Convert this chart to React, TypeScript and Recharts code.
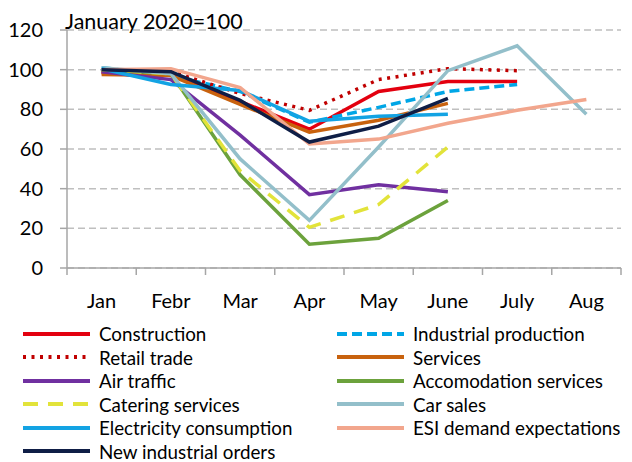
import React from 'react';
import { LineChart, Line, XAxis, YAxis, CartesianGrid, Legend } from 'recharts';

// Index values, January 2020 = 100
const MONTHS = ['Jan', 'Febr', 'Mar', 'Apr', 'May', 'June', 'July', 'Aug'];
const Y_TICKS = [0, 20, 40, 60, 80, 100, 120];

const construction = [98.5, 98, 84, 70, 89, 94, 94, null];
const industrialProduction = [101, 97, 89, 73.5, 81, 89, 92.5, null];
const retailTrade = [99, 99, 88, 79.5, 95, 100.5, 99.5, null];
const services = [97.5, 97, 82.5, 68.5, 74.5, 83, null, null];
const airTraffic = [99, 95, 67, 37, 42, 38.5, null, null];
const accomodation = [100, 98, 47, 12, 15, 34, null, null];
const catering = [100, 98, 49, 20.5, 32, 61, null, null];
const carSales = [101, 98, 55, 24, 61, 99.5, 112, 77.5];
const electricity = [100.5, 92.5, 89.5, 74, 76.5, 77.5, null, null];
const esiDemand = [100, 100.5, 91, 62.5, 65, 73, 79.5, 85];
const newOrders = [100, 99, 84.5, 63.5, 71.5, 85.5, null, null];

const SERIES = [
  { key: 'construction', name: 'Construction', values: construction, color: '#E3000F' },
  { key: 'industrial', name: 'Industrial production', values: industrialProduction, color: '#00A6E6', dash: '10 5' },
  { key: 'retail', name: 'Retail trade', values: retailTrade, color: '#C00000', dash: '3 5.5' },
  { key: 'services', name: 'Services', values: services, color: '#C8620E' },
  { key: 'air', name: 'Air traffic', values: airTraffic, color: '#7030A0' },
  { key: 'accomodation', name: 'Accomodation services', values: accomodation, color: '#6CA23C' },
  { key: 'catering', name: 'Catering services', values: catering, color: '#E2E33A', dash: '15 10' },
  { key: 'car', name: 'Car sales', values: carSales, color: '#93BFCA' },
  { key: 'electricity', name: 'Electricity consumption', values: electricity, color: '#13A3E3' },
  { key: 'esi', name: 'ESI demand expectations', values: esiDemand, color: '#F2A68D' },
  { key: 'orders', name: 'New industrial orders', values: newOrders, color: '#0F1E46' },
];

const data = MONTHS.map((month, i) => {
  const row: any = { month };
  SERIES.forEach((s) => { row[s.key] = s.values[i]; });
  return row;
});

const FONT = 'Lato, sans-serif';
const AXIS = '#A6A6A6';
const PLOT_WIDTH = 554;
const BAND = PLOT_WIDTH / MONTHS.length;

const XTick = ({ x, y, payload, index }: any) => (
  <g>
    <line x1={x - BAND / 2} x2={x - BAND / 2} y1={y} y2={y + 7} stroke={AXIS} strokeWidth={1.5} />
    {index === MONTHS.length - 1 && (
      <line x1={x + BAND / 2} x2={x + BAND / 2} y1={y} y2={y + 7} stroke={AXIS} strokeWidth={1.5} />
    )}
    <text x={x} y={y + 32} textAnchor="middle" dominantBaseline="central" fontSize={20} fontFamily={FONT} fill="#000">
      {payload.value}
    </text>
  </g>
);

const LegendContent = () => (
  <div style={{ display: 'grid', gridTemplateColumns: '314px 310px', fontFamily: FONT, fontSize: 18.8, color: '#000' }}>
    {SERIES.map((s) => (
      <div key={s.key} style={{ display: 'flex', alignItems: 'center', height: 23.5, paddingLeft: 13, whiteSpace: 'nowrap' }}>
        <svg width={71} height={10} style={{ marginRight: 7, flexShrink: 0 }}>
          <line x1={2} x2={69} y1={5} y2={5} stroke={s.color} strokeWidth={4} strokeDasharray={s.dash} />
        </svg>
        <span>{s.name}</span>
      </div>
    ))}
  </div>
);

export default function App() {
  return (
    <div style={{ position: 'relative', width: 624, height: 454, fontFamily: FONT }}>
      <div style={{ position: 'absolute', left: 57, top: 0, fontSize: 21.5, color: '#000', zIndex: 1 }}>
        January 2020=100
      </div>
      <LineChart width={624} height={454} data={data} margin={{ top: 22, right: 11, left: 0, bottom: 164 }}>
        <CartesianGrid horizontal vertical={false} stroke="#BFBFBF" strokeWidth={1.5} strokeDasharray="7 4" />
        <XAxis
          dataKey="month"
          scale="band"
          interval={0}
          height={30}
          tickLine={false}
          tickSize={0}
          tickMargin={0}
          axisLine={{ stroke: AXIS, strokeWidth: 1.5 }}
          tick={<XTick />}
        />
        <YAxis
          domain={[0, 120]}
          ticks={Y_TICKS}
          width={59}
          tickSize={7}
          tickMargin={17}
          axisLine={{ stroke: AXIS, strokeWidth: 1.5 }}
          tickLine={{ stroke: AXIS, strokeWidth: 1.5 }}
          tick={{ fill: '#000', fontSize: 20, fontFamily: FONT }}
        />
        {SERIES.map((s) => (
          <Line
            key={s.key}
            dataKey={s.key}
            name={s.name}
            type="linear"
            stroke={s.color}
            strokeWidth={3.5}
            strokeDasharray={s.dash}
            dot={false}
            activeDot={false}
            isAnimationActive={false}
          />
        ))}
        <Legend
          layout="horizontal"
          verticalAlign="middle"
          align="center"
          wrapperStyle={{ top: 314, left: 0, width: 624 }}
          content={<LegendContent />}
        />
      </LineChart>
    </div>
  );
}
